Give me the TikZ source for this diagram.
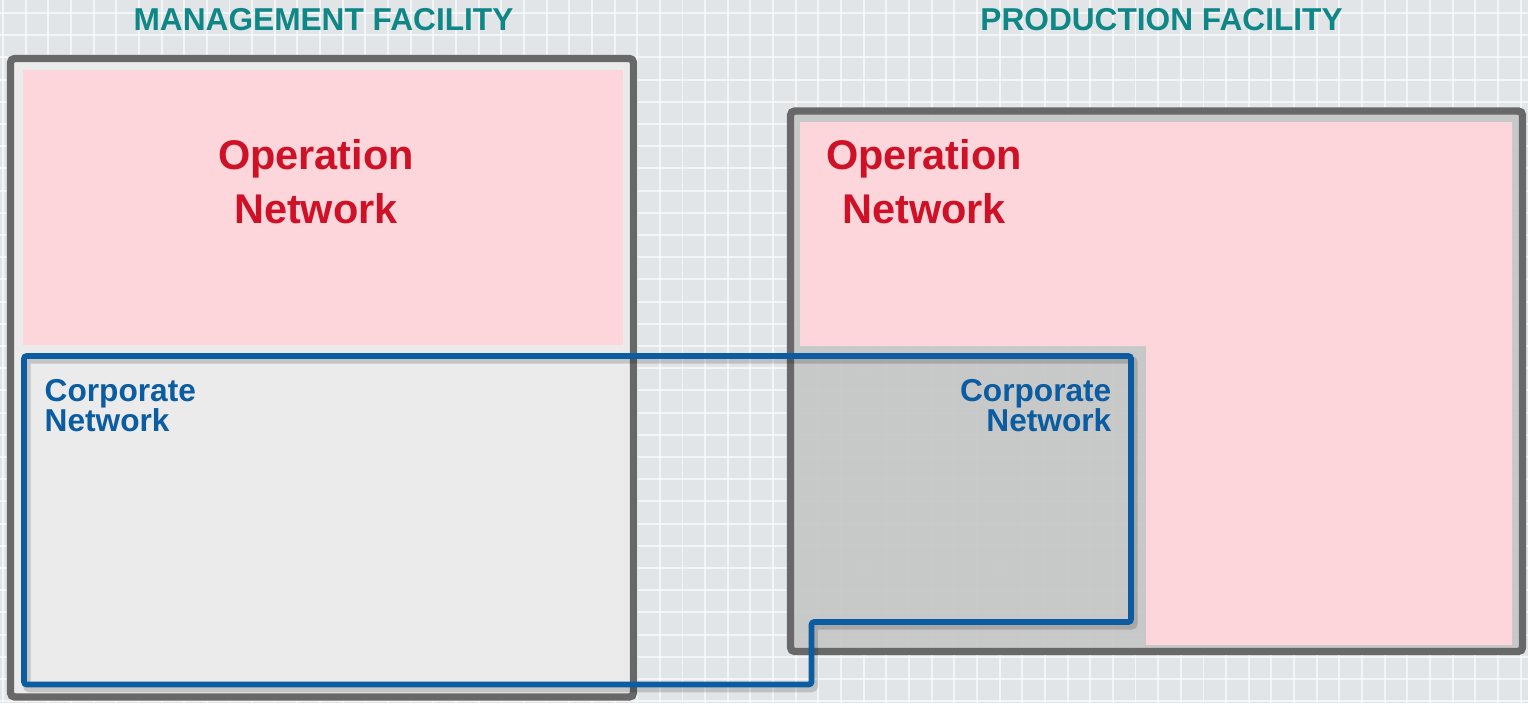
\documentclass[tikz,border=0pt]{standalone}
\usepackage{fontspec}
\setmainfont{Liberation Sans}
\usetikzlibrary{positioning}
\definecolor{gridbg}{RGB}{226,229,232}
\definecolor{frame}{RGB}{104,104,104}
\definecolor{mgmtfill}{RGB}{235,235,235}
\definecolor{prodfill}{RGB}{196,196,196}
\definecolor{oppink}{RGB}{252,214,218}
\definecolor{opred}{RGB}{206,17,38}
\definecolor{corpblue}{RGB}{11,92,160}
\definecolor{facteal}{RGB}{16,135,135}

\tikzset{
  gridline/.style={white,line width=0.55pt,opacity=0.6},
  facility/.style={draw=frame,line width=2.1pt,rounded corners=1.2pt},
  corpline/.style={draw=corpblue,line width=1.65pt,rounded corners=0.8pt,
    preaction={draw=black,opacity=0.16,line width=2.2pt,
      transform canvas={shift={(0.8pt,-1.1pt)}}}},
  facilitylabel/.style={text=facteal,inner sep=0pt,anchor=base,
    font=\bfseries\fontsize{9pt}{10pt}\selectfont},
  oplabel/.style={text=opred,inner sep=0pt,anchor=base,align=center,
    font=\bfseries\fontsize{11.8pt}{15.1pt}\selectfont},
  corplabel/.style={text=corpblue,inner sep=0pt,
    font=\bfseries\fontsize{9pt}{8.4pt}\selectfont\setlength{\lineskiplimit}{-5pt}}
}

\begin{document}
\begin{tikzpicture}[x=0.01cm,y=-0.01cm]
\useasboundingbox (0,0) rectangle (1528,703);
\fill[gridbg] (0,0) rectangle (1528,703);
\foreach \gx in {0,...,67}
  \draw[gridline] (3+22.65*\gx,0) -- ++(0,703);
\foreach \gy in {0,...,31}
  \draw[gridline] (0,13+22.2*\gy) -- ++(1528,0);

% management facility
\fill[mgmtfill] (10.5,58.5) rectangle (633.5,697);
\fill[oppink] (23,70) rectangle (623,345);
\draw[facility] (10.5,58.5) rectangle (633.5,697);

% production facility
\fill[prodfill,opacity=0.88] (790.5,111) rectangle (1522.5,651.5);
\fill[oppink] (800,122) -- (1512,122) -- (1512,645) -- (1146,645)
  -- (1146,346) -- (800,346) -- cycle;
\draw[facility] (790.5,111) rectangle (1522.5,651.5);

% corporate network outline
\draw[corpline] (24,356) -- (1131,356) -- (1131,622) -- (811.5,622)
  -- (811.5,684.5) -- (24,684.5) -- cycle;

% labels (base = last line)
\node[facilitylabel] (mgmt) at (323.5,31) {MANAGEMENT FACILITY};
\node[facilitylabel] (prod) at (1161.5,31) {PRODUCTION FACILITY};
\node[oplabel] (opmgmt) at (316,223) {Operation\\Network};
\node[oplabel] (opprod) at (924,223) {Operation\\Network};
\node[corplabel,anchor=base west,align=left] (corpmgmt) at (44,431) {Corporate\\Network};
\node[corplabel,anchor=base east,align=right] (corpprod) at (1112,431) {Corporate\\Network};
\end{tikzpicture}
\end{document}
